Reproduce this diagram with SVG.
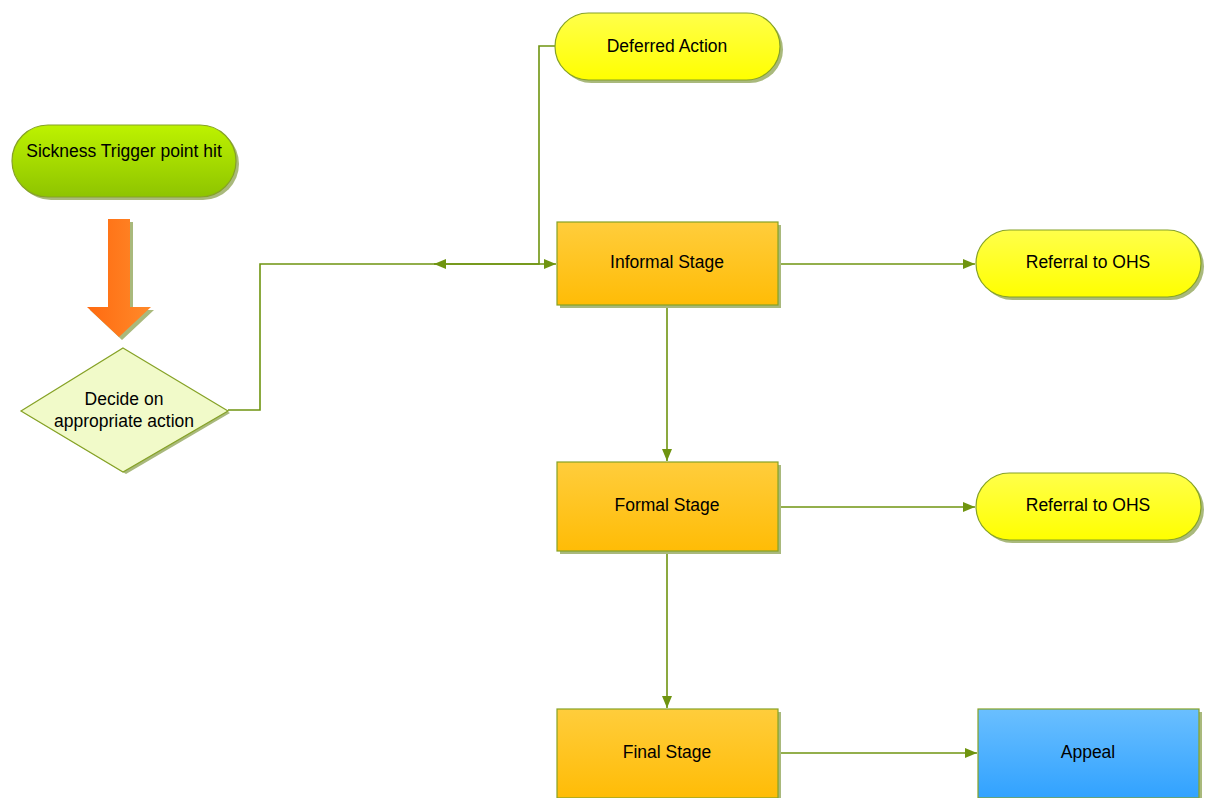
<svg xmlns="http://www.w3.org/2000/svg" width="1212" height="798" viewBox="0 0 1212 798">
<style>
text{font-family:"Liberation Sans",Arial,sans-serif;font-size:17.5px;fill:#000;text-anchor:middle}
.sh{fill:#a9b97c}
.st{stroke:#86a226;stroke-width:1.2}
.conn{fill:none;stroke:#6f9410;stroke-width:1.6}
</style>
<defs>
<linearGradient id="gGreen" x1="0" y1="0" x2="0" y2="1"><stop offset="0" stop-color="#bdf200"/><stop offset="1" stop-color="#8ec400"/></linearGradient>
<linearGradient id="gYellow" x1="0" y1="0" x2="0" y2="1"><stop offset="0" stop-color="#ffff4a"/><stop offset="1" stop-color="#ffff00"/></linearGradient>
<linearGradient id="gOrange" x1="0" y1="0" x2="0" y2="1"><stop offset="0" stop-color="#ffcd3c"/><stop offset="1" stop-color="#ffbc06"/></linearGradient>
<linearGradient id="gBlue" x1="0" y1="0" x2="0" y2="1"><stop offset="0" stop-color="#6abfff"/><stop offset="1" stop-color="#31a2ff"/></linearGradient>
<linearGradient id="gArrow" x1="0" y1="0" x2="1" y2="0"><stop offset="0" stop-color="#ff6a10"/><stop offset="1" stop-color="#ff8a2a"/></linearGradient>
<marker id="ah" viewBox="0 0 12 10" refX="12" refY="5" markerWidth="12" markerHeight="10" markerUnits="userSpaceOnUse" orient="auto-start-reverse"><path d="M0,0 L12,5 L0,10 Z" fill="#6f9410"/></marker>
</defs>

<g id="connectors">
<polyline class="conn" points="228,410 260,410 260,264 556,264" marker-end="url(#ah)"/>
<polyline class="conn" points="556,46 539,46 539,264 434,264" marker-end="url(#ah)"/>
<line class="conn" x1="778" y1="264" x2="975" y2="264" marker-end="url(#ah)"/>
<line class="conn" x1="667" y1="305" x2="667" y2="461" marker-end="url(#ah)"/>
<line class="conn" x1="778" y1="507" x2="975" y2="507" marker-end="url(#ah)"/>
<line class="conn" x1="667" y1="551" x2="667" y2="708" marker-end="url(#ah)"/>
<line class="conn" x1="778" y1="753" x2="977" y2="753" marker-end="url(#ah)"/>
</g>

<g id="trigger">
<rect class="sh" x="15" y="128" width="224" height="72" rx="36"/>
<rect class="st" x="12" y="125" width="224" height="72" rx="36" fill="url(#gGreen)"/>
<text x="124" y="157">Sickness Trigger point hit</text>
</g>

<g id="bigArrow">
<path d="M111,222 H133 V310 H154 L122,340 L90,310 H111 Z" class="sh"/>
<path d="M108,219 H130 V307 H151 L119,337 L87,307 H108 Z" fill="url(#gArrow)"/>
</g>

<g id="decide">
<path d="M126,351 L230,413 L126,474 L24,413 Z" class="sh"/>
<path class="st" d="M123,348 L228,411 L123,472 L21,411 Z" fill="#f1fac9"/>
<text x="124" y="405">Decide on</text>
<text x="124" y="427">appropriate action</text>
</g>

<g id="deferred">
<rect class="sh" x="558" y="16" width="225" height="67" rx="33.5"/>
<rect class="st" x="555" y="13" width="225" height="67" rx="33.5" fill="url(#gYellow)"/>
<text x="667" y="52">Deferred Action</text>
</g>

<g id="informal">
<rect class="sh" x="560" y="225" width="221" height="83"/>
<rect class="st" x="557" y="222" width="221" height="83" fill="url(#gOrange)"/>
<text x="667" y="268">Informal Stage</text>
</g>

<g id="referral1">
<rect class="sh" x="979" y="233" width="225" height="67" rx="33.5"/>
<rect class="st" x="976" y="230" width="225" height="67" rx="33.5" fill="url(#gYellow)"/>
<text x="1088" y="268">Referral to OHS</text>
</g>

<g id="formal">
<rect class="sh" x="560" y="465" width="221" height="89"/>
<rect class="st" x="557" y="462" width="221" height="89" fill="url(#gOrange)"/>
<text x="667" y="511">Formal Stage</text>
</g>

<g id="referral2">
<rect class="sh" x="979" y="476" width="225" height="67" rx="33.5"/>
<rect class="st" x="976" y="473" width="225" height="67" rx="33.5" fill="url(#gYellow)"/>
<text x="1088" y="511">Referral to OHS</text>
</g>

<g id="final">
<rect class="sh" x="560" y="712" width="221" height="89"/>
<rect class="st" x="557" y="709" width="221" height="89" fill="url(#gOrange)"/>
<text x="667" y="758">Final Stage</text>
</g>

<g id="appeal">
<rect class="sh" x="981" y="712" width="221" height="89"/>
<rect class="st" x="978" y="709" width="221" height="89" fill="url(#gBlue)"/>
<text x="1088" y="758">Appeal</text>
</g>
</svg>
